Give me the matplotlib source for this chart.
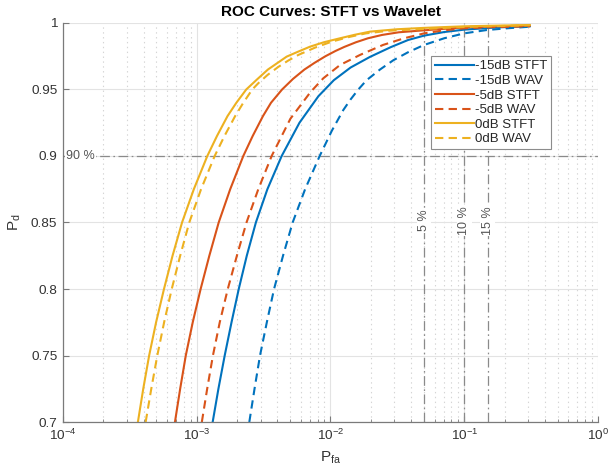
import matplotlib
matplotlib.use("Agg")
import matplotlib.pyplot as plt
import numpy as np

# ROC points (log10 of Pfa, since the x axis is log)
stft_0db_pd = [0.700, 0.725, 0.750, 0.775, 0.800, 0.825, 0.850, 0.875, 0.900, 0.915,
               0.930, 0.940, 0.950, 0.9575, 0.965, 0.9697, 0.9747, 0.9781, 0.9822,
               0.9855, 0.9885, 0.9911, 0.9935, 0.9953, 0.9963, 0.9975, 0.9985]
stft_0db_logpfa = [-3.440, -3.400, -3.356, -3.304, -3.245, -3.181, -3.110, -3.022, -2.921,
                   -2.849, -2.770, -2.704, -2.630, -2.55, -2.468, -2.40, -2.328, -2.25,
                   -2.153, -2.05, -1.929, -1.82, -1.705, -1.50, -1.306, -1.0, -0.51]

wav_0db_pd = [0.700, 0.725, 0.750, 0.775, 0.800, 0.825, 0.850, 0.875, 0.900, 0.915,
              0.930, 0.940, 0.950, 0.9547, 0.961, 0.967, 0.9718, 0.976, 0.9815, 0.986,
              0.9895, 0.9922, 0.9942, 0.9955, 0.997, 0.9983]
wav_0db_logpfa = [-3.382, -3.340, -3.295, -3.244, -3.187, -3.124, -3.056, -2.968, -2.866,
                  -2.793, -2.713, -2.652, -2.585, -2.54, -2.47, -2.39, -2.315, -2.24,
                  -2.115, -1.99, -1.86, -1.735, -1.56, -1.30, -1.0, -0.51]

stft_5db_pd = [0.700, 0.725, 0.750, 0.775, 0.800, 0.825, 0.850, 0.875, 0.900, 0.915,
               0.930, 0.940, 0.950, 0.958, 0.965, 0.970, 0.975, 0.979, 0.982, 0.9855,
               0.9885, 0.991, 0.993, 0.9945, 0.9956, 0.9966, 0.9974, 0.998]
stft_5db_logpfa = [-3.163, -3.124, -3.082, -3.030, -2.971, -2.906, -2.836, -2.750, -2.652,
                   -2.582, -2.505, -2.445, -2.362, -2.280, -2.195, -2.120, -2.038, -1.962,
                   -1.897, -1.81, -1.72, -1.615, -1.49, -1.30, -1.15, -1.0, -0.8, -0.51]

wav_5db_pd = [0.700, 0.725, 0.750, 0.775, 0.800, 0.825, 0.850, 0.875, 0.900, 0.915,
              0.928, 0.938, 0.948, 0.9584, 0.9684, 0.976, 0.9835, 0.9885, 0.9922,
              0.9945, 0.996, 0.9969, 0.9975]
wav_5db_logpfa = [-2.962, -2.922, -2.879, -2.828, -2.768, -2.700, -2.628, -2.540, -2.440,
                  -2.365, -2.30, -2.225, -2.15, -2.054, -1.929, -1.779, -1.607, -1.45,
                  -1.30, -1.15, -1.0, -0.78, -0.51]

stft_15db_pd = [0.700, 0.725, 0.750, 0.775, 0.800, 0.825, 0.850, 0.875, 0.900, 0.925,
                0.945, 0.957, 0.9665, 0.9745, 0.9818, 0.9872, 0.9905, 0.9932, 0.995,
                0.9967, 0.9975]
stft_15db_logpfa = [-2.881, -2.838, -2.791, -2.740, -2.686, -2.626, -2.558, -2.472, -2.365,
                    -2.232, -2.09, -1.975, -1.85, -1.705, -1.55, -1.42, -1.30, -1.15, -1.0,
                    -0.75, -0.51]

wav_15db_pd = [0.700, 0.725, 0.750, 0.775, 0.800, 0.825, 0.850, 0.875, 0.900, 0.919,
               0.9346, 0.9425, 0.950, 0.957, 0.965, 0.972, 0.978, 0.9835, 0.9885,
               0.9922, 0.9947, 0.996, 0.9972]
wav_15db_logpfa = [-2.607, -2.568, -2.527, -2.476, -2.422, -2.355, -2.283, -2.19, -2.081,
                   -1.99, -1.904, -1.85, -1.792, -1.73, -1.63, -1.53, -1.42, -1.30, -1.15,
                   -1.0, -0.832, -0.68, -0.51]

pfa_marks = [0.05, 0.1, 0.15]
pfa_mark_labels = ["5 %", "10 %", "15 %"]
pd_mark = 0.9
pd_mark_label = "90 %"

yticks = [0.7, 0.75, 0.8, 0.85, 0.9, 0.95, 1.0]
ytick_labels = ["0.7", "0.75", "0.8", "0.85", "0.9", "0.95", "1"]

blue = "#0072BD"
orange = "#D95319"
yellow = "#EDB120"

plt.rcParams["font.family"] = ["Liberation Sans", "DejaVu Sans"]
plt.rcParams["mathtext.fontset"] = "custom"
plt.rcParams["mathtext.rm"] = "Liberation Sans"
plt.rcParams["mathtext.it"] = "Liberation Sans:italic"
plt.rcParams["lines.scale_dashes"] = False

fig = plt.figure(figsize=(6.1, 4.7), dpi=100)
ax = fig.add_axes([0.1033, 0.1021, 0.877, 0.849])

dash = (0, (6, 3.8))
curves = [
    (stft_15db_logpfa, stft_15db_pd, blue, "-", "-15dB STFT"),
    (wav_15db_logpfa, wav_15db_pd, blue, dash, "-15dB WAV"),
    (stft_5db_logpfa, stft_5db_pd, orange, "-", "-5dB STFT"),
    (wav_5db_logpfa, wav_5db_pd, orange, dash, "-5dB WAV"),
    (stft_0db_logpfa, stft_0db_pd, yellow, "-", "0dB STFT"),
    (wav_0db_logpfa, wav_0db_pd, yellow, dash, "0dB WAV"),
]
for lp, pd_, col, ls, lab in curves:
    ax.plot(10 ** np.asarray(lp), pd_, color=col, lw=1.5, ls=ls, label=lab)

# reference lines
dashdot = (0, (7, 2.5, 1.2, 2.5))
mark_color = "#8a8a8a"
ax.axhline(pd_mark, color=mark_color, lw=0.9, ls=dashdot, zorder=1.5)
ax.text(0.006, pd_mark, pd_mark_label, transform=ax.get_yaxis_transform(),
        ha="left", va="center", fontsize=9, color="#555555",
        bbox=dict(facecolor="white", edgecolor="none", pad=1))
for xv, lab in zip(pfa_marks, pfa_mark_labels):
    ax.axvline(xv, color=mark_color, lw=0.9, ls=dashdot, zorder=1.5)
    ax.text(xv, 0.505, lab, transform=ax.get_xaxis_transform(), rotation=90,
            ha="center", va="center", fontsize=9, color="#555555",
            bbox=dict(facecolor="white", edgecolor="none", pad=1))

ax.set_xscale("log")
ax.set_xlim(1e-4, 1)
ax.set_ylim(0.7, 1)
ax.set_yticks(yticks)
ax.set_yticklabels(ytick_labels)

ax.grid(True, which="major", color="#e3e3e3", lw=0.8)
ax.grid(True, which="minor", axis="x", color="#d5d5d5", lw=0.8, ls=(0, (1, 2.5)))
ax.set_axisbelow(True)

for s in ["top", "right"]:
    ax.spines[s].set_visible(False)
for s in ["left", "bottom"]:
    ax.spines[s].set_color("#7a7a7a")
    ax.spines[s].set_linewidth(0.9)

ax.tick_params(which="major", direction="in", length=4, width=0.8, color="#7a7a7a",
               labelcolor="#333333", labelsize=9.7, pad=4)
ax.tick_params(which="minor", direction="in", length=2.5, width=0.6, color="#7a7a7a")

ax.set_title("ROC Curves: STFT vs Wavelet", fontsize=11, fontweight="bold", pad=5)
ax.set_xlabel(r"$\mathregular{P_{fa}}$", fontsize=11, color="#333333", labelpad=5)
ax.set_ylabel(r"$\mathregular{P_{d}}$", fontsize=11, color="#333333", labelpad=6)

leg = ax.legend(loc="upper left", bbox_to_anchor=(0.688, 0.917), borderaxespad=0,
                fontsize=9.5, handlelength=2.95, handletextpad=0.1, labelspacing=0.18,
                borderpad=0.3, fancybox=False, framealpha=1, edgecolor="#8c8c8c")
leg.get_frame().set_linewidth(0.8)
for t in leg.get_texts():
    t.set_color("#262626")

fig.savefig("out.png", dpi=100)
